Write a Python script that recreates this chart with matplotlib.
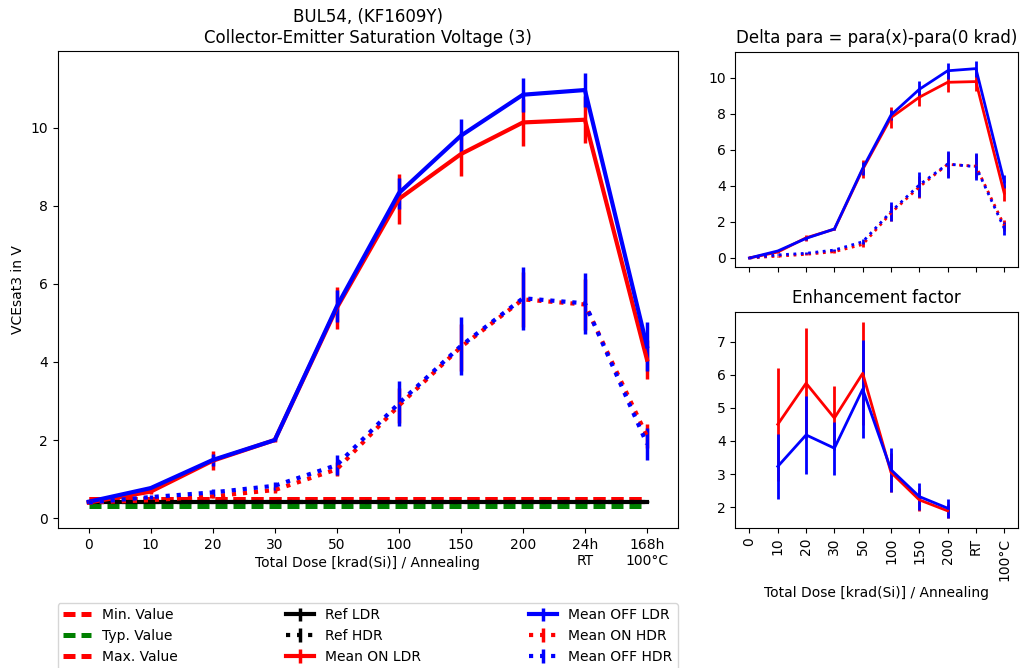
import numpy as np
import matplotlib
matplotlib.use('Agg')
import matplotlib.pyplot as plt

# x categories (dose steps / annealing)
steps = ['0', '10', '20', '30', '50', '100', '150', '200', '24h\nRT', '168h\n100°C']
steps_short = ['0', '10', '20', '30', '50', '100', '150', '200', 'RT', '100°C']

# spec / reference values
min_value = [0.49] * 10
typ_value = [0.30] * 10
max_value = [0.49] * 10
ref_ldr = [0.42] * 10
ref_ldr_err = [0.01] * 10
ref_hdr = [0.42] * 10
ref_hdr_err = [0.01] * 10

# mean values
on_ldr = [0.40, 0.68, 1.47, 2.00, 5.38, 8.17, 9.32, 10.13, 10.20, 4.06]
on_ldr_err = [0.03, 0.05, 0.24, 0.05, 0.54, 0.63, 0.56, 0.60, 0.60, 0.50]
off_ldr = [0.42, 0.77, 1.49, 2.00, 5.42, 8.32, 9.79, 10.84, 10.96, 4.40]
off_ldr_err = [0.03, 0.05, 0.15, 0.03, 0.41, 0.40, 0.42, 0.43, 0.43, 0.62]
on_hdr = [0.40, 0.46, 0.56, 0.72, 1.25, 2.88, 4.38, 5.60, 5.47, 2.10]
on_hdr_err = [0.02, 0.03, 0.05, 0.07, 0.18, 0.45, 0.60, 0.70, 0.65, 0.30]
off_hdr = [0.40, 0.54, 0.66, 0.83, 1.36, 2.94, 4.41, 5.63, 5.50, 1.90]
off_hdr_err = [0.02, 0.05, 0.08, 0.10, 0.25, 0.58, 0.75, 0.81, 0.78, 0.40]

# delta para = para(x) - para(0 krad)
d_on_ldr = [0.0, 0.33, 1.12, 1.60, 4.92, 7.80, 8.93, 9.76, 9.80, 3.60]
d_on_ldr_err = [0.0, 0.05, 0.15, 0.05, 0.50, 0.60, 0.50, 0.55, 0.55, 0.45]
d_off_ldr = [0.0, 0.39, 1.09, 1.61, 4.98, 7.94, 9.37, 10.40, 10.52, 4.24]
d_off_ldr_err = [0.0, 0.05, 0.10, 0.05, 0.35, 0.30, 0.45, 0.45, 0.45, 0.38]
d_on_hdr = [0.0, 0.10, 0.20, 0.35, 0.75, 2.50, 3.95, 5.20, 5.10, 1.80]
d_on_hdr_err = [0.0, 0.03, 0.05, 0.08, 0.15, 0.45, 0.60, 0.70, 0.65, 0.30]
d_off_hdr = [0.0, 0.17, 0.26, 0.44, 0.90, 2.57, 4.06, 5.22, 5.07, 1.65]
d_off_hdr_err = [0.0, 0.03, 0.05, 0.08, 0.15, 0.53, 0.70, 0.75, 0.75, 0.37]

# enhancement factor (LDR / HDR)
nan = np.nan
enh_on = [nan, 4.50, 5.74, 4.69, 6.04, 3.05, 2.22, 1.89, nan, nan]
enh_on_err = [nan, 1.70, 1.66, 0.97, 1.56, 0.60, 0.35, 0.22, nan, nan]
enh_off = [nan, 3.23, 4.18, 3.78, 5.56, 3.13, 2.32, 1.97, nan, nan]
enh_off_err = [nan, 0.97, 1.18, 0.80, 1.48, 0.67, 0.41, 0.29, nan, nan]

x = np.arange(len(steps))

fig = plt.figure(figsize=(10.24, 6.68), dpi=100)

# ################################################################################
# main panel

ax = fig.add_axes([0.0563, 0.2091, 0.6058, 0.7146])

spec_style = dict(lw=3.6, dashes=(2.4, 1.2))
ax.plot(x, min_value, color='r', label='Min. Value', **spec_style)
ax.plot(x, typ_value, color='g', label='Typ. Value', **spec_style)
ax.plot(x, max_value, color='r', label='Max. Value', **spec_style)

main_style = dict(lw=3, elinewidth=2.5, capsize=0)
ax.errorbar(x, ref_ldr, yerr=ref_ldr_err, color='k', ls='-', label='Ref LDR', **main_style)
ax.errorbar(x, ref_hdr, yerr=ref_hdr_err, color='k', ls=':', label='Ref HDR', **main_style)
ax.errorbar(x, on_ldr, yerr=on_ldr_err, color='r', ls='-', label='Mean ON LDR', **main_style)
ax.errorbar(x, off_ldr, yerr=off_ldr_err, color='b', ls='-', label='Mean OFF LDR', **main_style)
ax.errorbar(x, on_hdr, yerr=on_hdr_err, color='r', ls=':', label='Mean ON HDR', **main_style)
ax.errorbar(x, off_hdr, yerr=off_hdr_err, color='b', ls=':', label='Mean OFF HDR', **main_style)

ax.set_xlim(-0.5, 9.5)
ax.set_ylim(-0.26, 11.96)
ax.set_xticks(x)
ax.set_xticklabels(steps)
ax.set_ylabel('VCEsat3 in V')
ax.set_xlabel('Total Dose [krad(Si)] / Annealing')
ax.xaxis.set_label_coords(0.5, -0.058)
ax.set_title('BUL54, (KF1609Y)\nCollector-Emitter Saturation Voltage (3)')

ax.legend(loc='upper left', bbox_to_anchor=(0, -0.156, 1, 0), mode='expand',
          ncol=3, borderaxespad=0)

# ################################################################################
# delta panel

ax2 = fig.add_axes([0.7181, 0.5998, 0.2764, 0.3228])
side_style = dict(lw=2, elinewidth=2, capsize=0)
ax2.errorbar(x, d_on_ldr, yerr=d_on_ldr_err, color='r', ls='-', **side_style)
ax2.errorbar(x, d_off_ldr, yerr=d_off_ldr_err, color='b', ls='-', **side_style)
ax2.errorbar(x, d_on_hdr, yerr=d_on_hdr_err, color='r', ls=':', **side_style)
ax2.errorbar(x, d_off_hdr, yerr=d_off_hdr_err, color='b', ls=':', **side_style)
ax2.set_xlim(-0.5, 9.5)
ax2.set_ylim(-0.52, 11.46)
ax2.set_xticks(x)
ax2.tick_params(labelbottom=False)
ax2.set_title('Delta para = para(x)-para(0 krad)')

# ################################################################################
# enhancement factor panel

ax3 = fig.add_axes([0.7181, 0.2100, 0.2764, 0.3234])
ax3.errorbar(x, enh_on, yerr=enh_on_err, color='r', ls='-', **side_style)
ax3.errorbar(x, enh_off, yerr=enh_off_err, color='b', ls='-', **side_style)
ax3.set_xlim(-0.5, 9.5)
ax3.set_ylim(1.38, 7.9)
ax3.set_xticks(x)
ax3.set_xticklabels(steps_short, rotation=90)
ax3.set_xlabel('Total Dose [krad(Si)] / Annealing')
ax3.set_title('Enhancement factor')

plt.savefig('out.png', dpi=100)
